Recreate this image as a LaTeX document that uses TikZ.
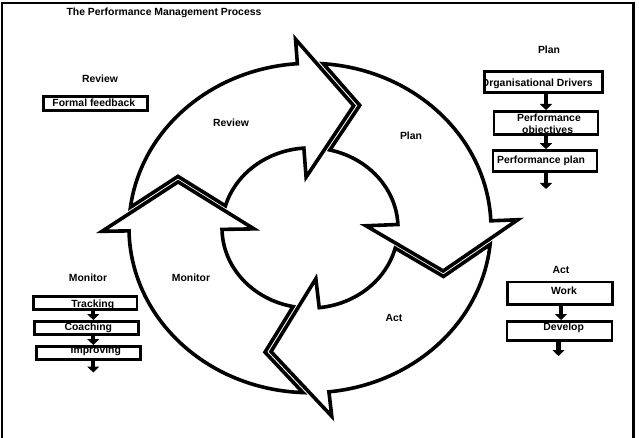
\documentclass[tikz,border=0pt]{standalone}
\usepackage{fontspec}
\setmainfont{Liberation Sans}
\usetikzlibrary{arrows.meta}
\tikzset{
  cyc/.style={draw, line width=3.6pt, fill=white, line join=miter},
  lbl/.style={font=\fontsize{10.4}{12}\selectfont\bfseries, inner sep=0pt},
  box/.style={draw, line width=2.6pt, fill=white, inner sep=0pt},
  conn/.style={line width=4.2pt, -{Triangle[width=12pt,length=6pt]}},
  frame/.style={draw, line width=2.4pt},
}
% #1 tail angle (shoulder of previous head), #2 head shoulder angle
\newcommand\cycarrow[2]{%
  \draw[cyc] ({#1-8.23}:181) arc[start angle={#1-8.23}, end angle={#2}, radius=181]
    -- ({#2}:208) -- ({#2-22.03}:141.3) -- ({#2}:56) -- ({#2}:88)
    arc[start angle={#2}, end angle={#1-17.07}, radius=88]
    -- ({#1-24.25}:143.7) -- cycle;}
\begin{document}
\begin{tikzpicture}[x=1pt,y=1pt]
\useasboundingbox (0,0) rectangle (639,-438);
\draw[frame] (2,-3) rectangle (633.5,-470);

% cycle arrows
\begin{scope}[shift={(310,-228)}, yscale=0.91]
  \cycarrow{181}{94}    % Review
  \cycarrow{94}{2.5}    % Plan
  \cycarrow{2.5}{-84}   % Act
  \cycarrow{-84}{-179}  % Monitor
\end{scope}

% labels
\node[lbl] (title) at (164,-13) {The Performance Management Process};
\node[lbl] (revL) at (100,-79) {Review};
\node[lbl] (revA) at (231,-123) {Review};
\node[lbl] (planL) at (549,-50) {Plan};
\node[lbl] (planA) at (411,-136) {Plan};
\node[lbl] (actL) at (561,-270) {Act};
\node[lbl] (actA) at (394,-318) {Act};
\node[lbl] (monL) at (88,-278) {Monitor};
\node[lbl] (monA) at (191,-278) {Monitor};

% boxes
\node[box, minimum width=104pt, minimum height=14pt,
  path picture={\node[lbl, anchor=base] at ([shift={(-1.9pt,-3.4pt)}]path picture bounding box.center) {Formal feedback};}]
  (ff) at (95.7,-103.3) {};

\node[box, minimum width=118pt, minimum height=21.4pt,
  path picture={\node[lbl, anchor=base west] at ([shift={(-67pt,-4.2pt)}]path picture bounding box.center) {Organisational Drivers};}]
  (od) at (543.7,-82) {};
\node[box, minimum width=104pt, minimum height=23.4pt,
  path picture={\node[lbl, anchor=base] at ([shift={(3pt,1pt)}]path picture bounding box.center) {Performance};
                \node[lbl, anchor=base] at ([shift={(1.6pt,-11pt)}]path picture bounding box.center) {objectives};}]
  (po) at (546,-123) {};
\node[box, minimum width=104pt, minimum height=21pt,
  path picture={\node[lbl, anchor=base] at ([shift={(-4pt,-3pt)}]path picture bounding box.center) {Performance plan};}]
  (pp) at (545,-161) {};

\node[box, minimum width=105.4pt, minimum height=22.7pt,
  path picture={\node[lbl, anchor=base] at ([shift={(4pt,-0.7pt)}]path picture bounding box.center) {Work};}]
  (work) at (560,-293.3) {};
\node[box, minimum width=105pt, minimum height=19pt,
  path picture={\node[lbl, anchor=base] at ([shift={(4.2pt,0.8pt)}]path picture bounding box.center) {Develop};}]
  (dev) at (559.5,-330.8) {};

\node[box, minimum width=103.4pt, minimum height=13pt,
  path picture={\node[lbl, anchor=base] at ([shift={(7.5pt,-4.5pt)}]path picture bounding box.center) {Tracking};}]
  (trk) at (85.3,-302.8) {};
\node[box, minimum width=104pt, minimum height=13.4pt,
  path picture={\node[lbl, anchor=base] at ([shift={(1.6pt,-2pt)}]path picture bounding box.center) {Coaching};}]
  (coa) at (86.7,-328) {};
\node[box, minimum width=104pt, minimum height=13.4pt,
  path picture={\node[lbl, anchor=base] at ([shift={(7.5pt,-0.3pt)}]path picture bounding box.center) {Improving};}]
  (imp) at (88.3,-353) {};

% connectors
\coordinate (pend) at (546,-189);
\coordinate (dend) at (558.5,-356);
\coordinate (iend) at (93.3,-372.5);
\coordinate (pcol) at (546,0);
\coordinate (mcol) at (93.3,0);

\draw[conn] (od.south -| pcol) -- (po.north -| pcol);
\draw[conn] (po.south -| pcol) -- (pp.north -| pcol);
\draw[conn] (pp.south -| pcol) -- (pend);
\draw[conn] ([xshift=1pt]work.south) -- ([xshift=1.5pt]dev.north);
\draw[conn] (dev.south -| dend) -- (dend);
\draw[conn] (trk.south -| mcol) -- (coa.north -| mcol);
\draw[conn] (coa.south -| mcol) -- (imp.north -| mcol);
\draw[conn] (imp.south -| mcol) -- (iend);
\end{tikzpicture}
\end{document}
